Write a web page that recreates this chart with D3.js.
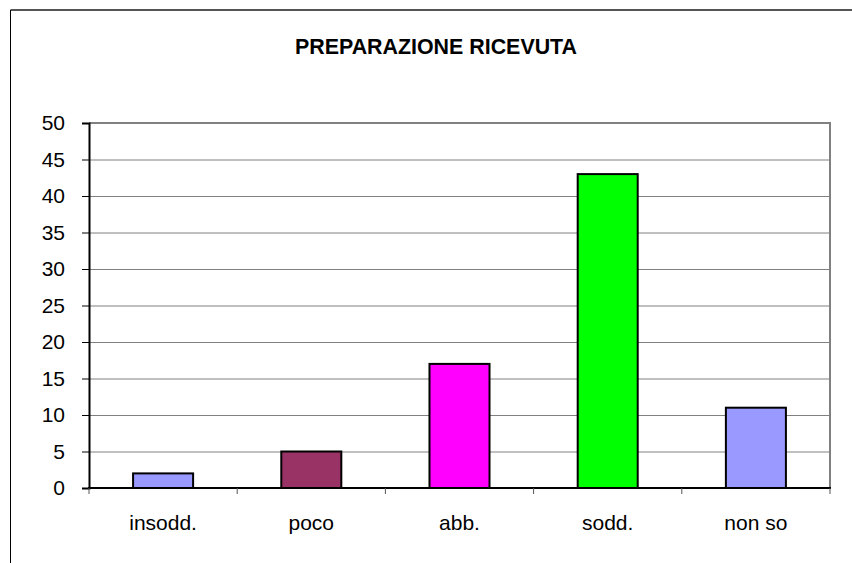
<!DOCTYPE html>
<html>
<head>
<meta charset="utf-8">
<script src="https://cdn.jsdelivr.net/npm/d3@7.9.0/dist/d3.min.js"></script>
<style>
  body { margin: 0; background: #fff; }
  svg { display: block; font-family: Arial, "Liberation Sans", sans-serif; }
</style>
</head>
<body>
<svg id="chart" width="852" height="563"></svg>
<script>
// chart data
const categories = ['insodd.', 'poco', 'abb.', 'sodd.', 'non so'];
const values = [2, 5, 17, 43, 11];
const barColors = ['#9999FF', '#993366', '#FF00FF', '#00FF00', '#9999FF'];
const yTicks = [0, 5, 10, 15, 20, 25, 30, 35, 40, 45, 50];
const title = 'PREPARAZIONE RICEVUTA';

const svg = d3.select('#chart');

// outer chart frame (runs off the right and bottom edges)
svg.append('line').attr('x1', 10.5).attr('y1', 10).attr('x2', 852).attr('y2', 10)
  .attr('stroke', '#555').attr('stroke-width', 2);
svg.append('line').attr('x1', 10.5).attr('y1', 10).attr('x2', 10.5).attr('y2', 563)
  .attr('stroke', '#000').attr('stroke-width', 1);

svg.append('text')
  .attr('x', 436).attr('y', 54)
  .attr('text-anchor', 'middle')
  .attr('font-size', 21.4).attr('font-weight', 'bold')
  .text(title);

const plot = { left: 89, right: 830, top: 123, bottom: 488 };

const x = d3.scaleBand().domain(categories).range([plot.left, plot.right]).paddingInner(0).paddingOuter(0);
const y = d3.scaleLinear().domain([0, 50]).range([plot.bottom, plot.top]);

// gridlines
svg.append('g')
  .selectAll('line')
  .data(yTicks.filter(d => d > 0 && d < 50))
  .join('line')
  .attr('x1', plot.left).attr('x2', plot.right)
  .attr('y1', d => y(d) + 0.5).attr('y2', d => y(d) + 0.5)
  .attr('stroke', '#808080').attr('stroke-width', 1);

// plot area top/right border
svg.append('path')
  .attr('d', `M${plot.left},${plot.top} H${plot.right} V${plot.bottom}`)
  .attr('fill', 'none').attr('stroke', '#808080').attr('stroke-width', 2);

// bars
const bw = x.bandwidth() * 0.405;
svg.append('g')
  .selectAll('rect')
  .data(values)
  .join('rect')
  .attr('x', (d, i) => x(categories[i]) + (x.bandwidth() - bw) / 2)
  .attr('y', d => y(d))
  .attr('width', bw)
  .attr('height', d => y(0) - y(d))
  .attr('fill', (d, i) => barColors[i])
  .attr('stroke', '#000').attr('stroke-width', 2);

// y axis
const yAxis = svg.append('g')
  .attr('transform', `translate(${plot.left},0)`)
  .call(d3.axisLeft(y).tickValues(yTicks).tickSize(7).tickPadding(17));
yAxis.select('.domain').attr('stroke-width', 2);
yAxis.selectAll('.tick line').attr('stroke-width', 1);
yAxis.selectAll('text').attr('font-size', 21).attr('fill', '#000')
  .attr('font-family', 'Arial, "Liberation Sans", sans-serif');

// x axis: ticks at category boundaries, labels centred in the bands
const xAxis = svg.append('g').attr('transform', `translate(0,${plot.bottom})`);
xAxis.append('line').attr('x1', plot.left - 1).attr('x2', plot.right + 1)
  .attr('stroke', '#000').attr('stroke-width', 2);
const bounds = categories.map(c => x(c)).concat([plot.right]);
xAxis.selectAll('.xtick')
  .data(bounds)
  .join('line')
  .attr('class', 'xtick')
  .attr('x1', d => d).attr('x2', d => d)
  .attr('y1', 0).attr('y2', 6)
  .attr('stroke', '#555').attr('stroke-width', 1);
xAxis.selectAll('text')
  .data(categories)
  .join('text')
  .attr('x', d => x(d) + x.bandwidth() / 2)
  .attr('y', 42)
  .attr('text-anchor', 'middle')
  .attr('font-size', 21)
  .text(d => d);
</script>
</body>
</html>
